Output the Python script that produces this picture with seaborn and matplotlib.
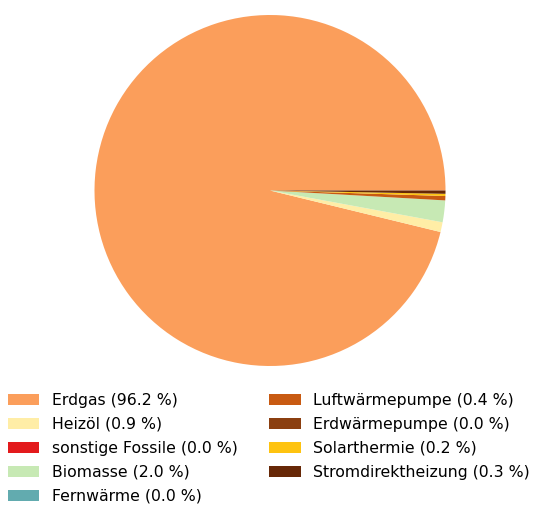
import matplotlib
matplotlib.use("Agg")
import matplotlib.pyplot as plt
import seaborn as sns

sns.set_style("white", rc={"text.color": "black", "patch.edgecolor": "none",
                            "patch.force_edgecolor": False})
plt.rcParams['font.family'] = ['DejaVu Sans']

categories = ["Erdgas", "Heizöl", "sonstige Fossile", "Biomasse", "Fernwärme",
              "Luftwärmepumpe", "Erdwärmepumpe", "Solarthermie", "Stromdirektheizung"]
shares = [96.2, 0.9, 0.0, 2.0, 0.0, 0.4, 0.0, 0.2, 0.3]
colors = sns.color_palette(["#fb9e5b", "#ffeda6", "#e31a1c", "#c7e9b4", "#62abaf",
                            "#c85a12", "#8b3f10", "#fec310", "#672807"])

labels = [f"{c} ({v:.1f} %)" for c, v in zip(categories, shares)]

fig = plt.figure(figsize=(5.35, 5.05), dpi=100)
ax = fig.add_axes([94 / 535, 1 - 366 / 505, 352 / 535, 351 / 505])
wedges, _ = ax.pie(shares, colors=colors, startangle=0, counterclock=True,
                   wedgeprops={"linewidth": 0})
ax.set_xlim(-1, 1)
ax.set_ylim(-1, 1)
ax.set_aspect("equal")

fig.legend(wedges, labels, loc="upper left", bbox_to_anchor=(8 / 535, 1 - 393 / 505),
           ncol=2, frameon=False, fontsize=11.3, borderaxespad=0.0, borderpad=0.0,
           handlelength=2.0, columnspacing=2.0, labelspacing=0.57)

fig.savefig("out.png", dpi=100)
